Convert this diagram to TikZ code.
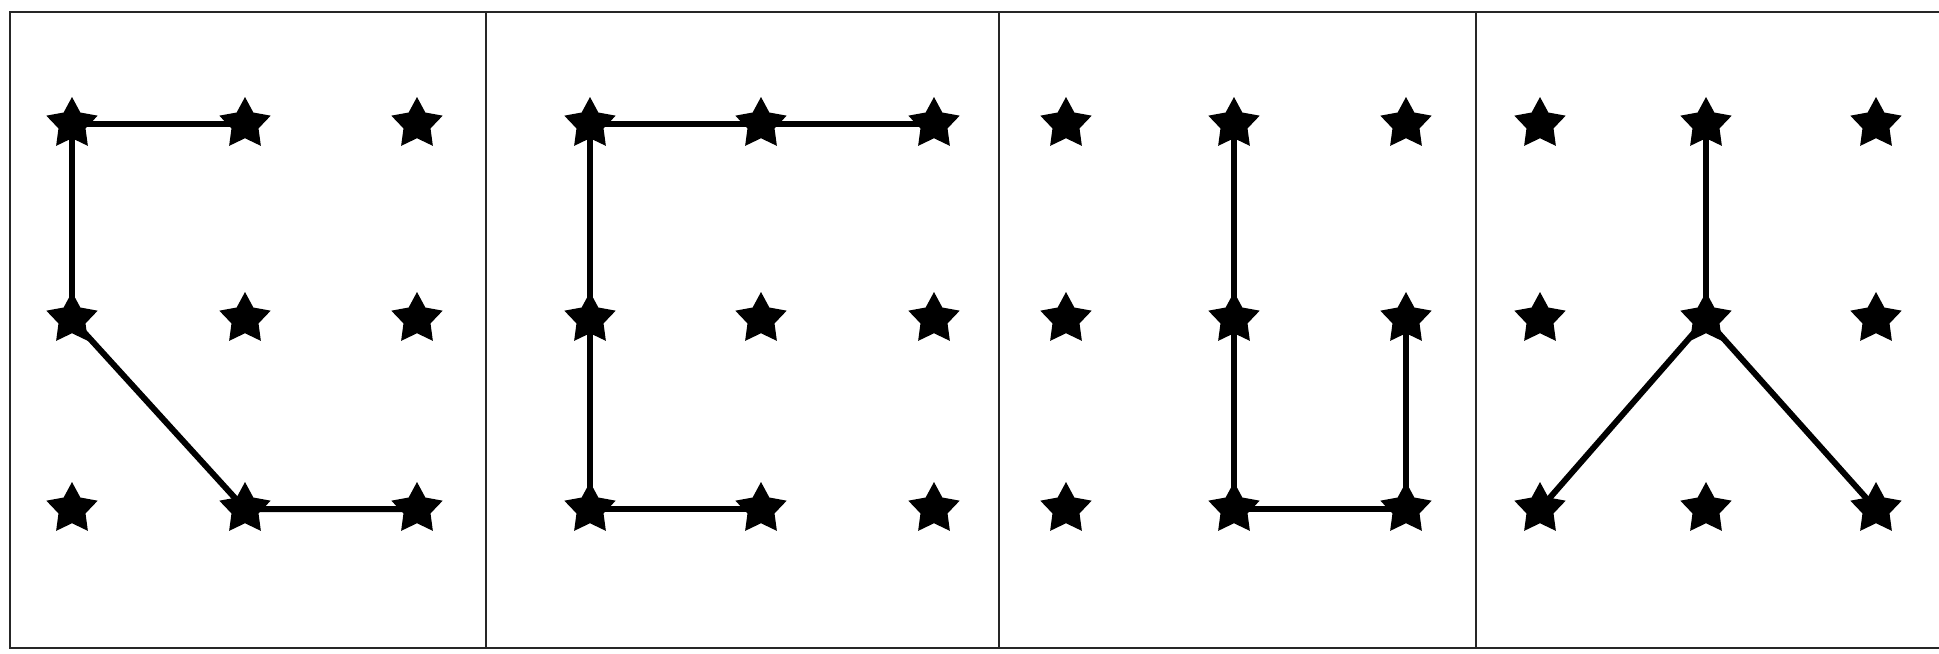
\documentclass[tikz,border=0pt]{standalone}
\usetikzlibrary{shapes.geometric,backgrounds}
\begin{document}
\begin{tikzpicture}[x=0.01cm,y=-0.01cm,
  starnode/.style={star,star points=5,star point ratio=1.9,fill=black,draw=none,minimum size=0.54cm,inner sep=0pt},
  stroke/.style={line width=1.7pt,black},
  frameline/.style={line width=0.8pt,black!85}]
\useasboundingbox (0,0) rectangle (1939,653);
% frame
\draw[frameline] (1939,12) -- (10,12) -- (10,648) -- (1939,648);
\draw[frameline] (486,12) -- (486,648);
\draw[frameline] (999,12) -- (999,648);
\draw[frameline] (1476,12) -- (1476,648);
% stars
\foreach \p/\xa/\xb/\xc in {A/72/245/417, B/590/761/934, C/1066/1234/1406, D/1540/1706/1876}{
  \foreach \r/\y in {1/124,2/319,3/509}{
    \node[starnode] (\p1\r) at (\xa,\y) {};
    \node[starnode] (\p2\r) at (\xb,\y) {};
    \node[starnode] (\p3\r) at (\xc,\y) {};
  }
}
\begin{scope}[on background layer]
% panel 1
\draw[stroke] (A11.center) -- (A21.center);
\draw[stroke] (A11.center) -- (A12.center) -- (A23.center) -- (A33.center);
% panel 2
\draw[stroke] (B31.center) -- (B21.center) -- (B11.center) -- (B12.center) -- (B13.center) -- (B23.center);
% panel 3
\draw[stroke] (C21.center) -- (C22.center) -- (C23.center) -- (C33.center) -- (C32.center);
% panel 4
\draw[stroke] (D21.center) -- (D22.center);
\draw[stroke] (D13.center) -- (D22.center) -- (D33.center);
\end{scope}
\end{tikzpicture}
\end{document}
